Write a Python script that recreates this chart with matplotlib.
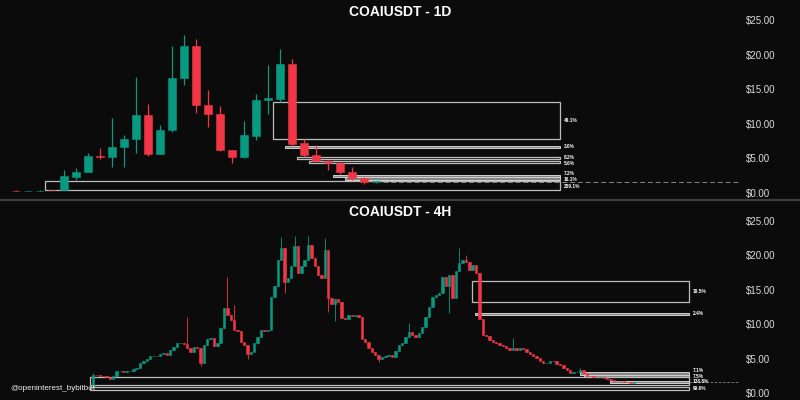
import matplotlib
matplotlib.use('Agg')
import matplotlib.pyplot as plt
from matplotlib.patches import Rectangle
from matplotlib.lines import Line2D
from matplotlib.ticker import FuncFormatter
import numpy as np

plt.rcParams['font.family'] = ['Liberation Sans', 'DejaVu Sans']

BG = '#0b0b0b'
UP = '#089981'
DN = '#f23645'

# ---------------- Daily (1D) candles ----------------
d_open = [0.36, 0.32, 0.33, 0.45, 0.43, 2.36, 3.0, 5.4, 5.25, 6.6, 7.76, 11.27, 5.68, 9.15, 16.66, 21.3,
          12.67, 11.37, 6.17, 5.16, 8.3, 13.5, 13.6, 18.6, 7.27, 5.53, 4.67, 4.29, 3.08, 2.12, 1.59]
d_high = [0.38, 0.36, 0.37, 0.47, 3.3, 3.66, 5.82, 6.5, 10.9, 8.4, 16.7, 12.8, 9.87, 21.3, 22.8, 22.3,
          14.9, 12.5, 6.2, 10.4, 14.3, 18.5, 20.85, 19.3, 7.76, 6.94, 4.7, 4.3, 3.7, 2.36, 1.75]
d_low = [0.3, 0.3, 0.31, 0.4, 0.4, 1.88, 3.0, 4.9, 3.8, 3.8, 5.8, 5.35, 5.6, 8.86, 15.6, 11.5,
         9.58, 6.07, 4.29, 5.1, 7.66, 11.46, 13.2, 6.8, 5.16, 4.6, 3.3, 2.7, 1.92, 1.34, 1.5]
d_close = [0.32, 0.35, 0.36, 0.42, 2.45, 3.03, 5.39, 5.2, 6.65, 7.76, 11.27, 5.68, 9.15, 16.66, 21.3, 12.67,
           11.37, 6.17, 5.16, 8.38, 13.4, 13.7, 18.6, 7.08, 5.53, 4.67, 4.29, 3.08, 2.12, 1.59, 1.69]
d_last = 1.55

# zones: (start candle, top, bottom, label, filled)
d_zone_start = [21.45, 22.45, 23.45, 24.45, 26.45, 27.45, 2.45]
d_zone_top = [13.15, 6.84, 5.16, 4.58, 2.6, 2.27, 1.73]
d_zone_bot = [7.85, 6.55, 4.87, 4.29, 2.27, 1.88, 0.43]
d_zone_lbl = ['49.1%', '3.0%', '8.2%', '5.6%', '7.2%', '16.1%', '259.1%']
d_zone_fill = [False, True, False, False, True, True, False]

# ---------------- 4H candles ----------------
h_first_open = 1.0
h_close = [2.6, 2.55, 2.5, 2.45, 2.35, 2.05, 2.5, 3.2, 3.25, 3.1,
           3.15, 3.2, 3.5, 3.7, 4.3, 4.7, 5.0, 5.4, 5.45, 5.35,
           5.6, 5.8, 5.5, 6.25, 6.7, 7.2, 7.3, 7.1, 6.6, 6.0,
           6.7, 6.5, 4.4, 7.0, 7.9, 8.0, 6.9, 7.3, 9.4, 12.3,
           11.3, 10.6, 9.15, 9.0, 7.45, 7.0, 5.7, 6.0, 7.2, 8.2,
           9.15, 9.0, 9.1, 14.0, 15.5, 19.3, 21.1, 16.2, 16.7, 18.4,
           21.3, 17.4, 18.4, 19.3, 21.5, 19.6, 18.4, 17.2, 16.7, 20.8,
           13.8, 13.0, 13.7, 13.2, 10.9, 10.8, 11.3, 11.2, 11.4, 11.0,
           7.9, 7.4, 6.6, 6.0, 5.5, 4.9, 5.3, 5.4, 5.5, 5.3,
           6.1, 7.0, 7.3, 8.2, 8.9, 8.5, 8.2, 8.7, 9.6, 11.1,
           12.5, 14.0, 14.2, 14.5, 16.9, 15.5, 17.2, 13.8, 17.7, 18.9,
           19.3, 19.0, 17.9, 18.6, 17.5, 10.8, 8.4, 8.3, 7.7, 7.4,
           7.2, 7.0, 6.8, 6.5, 6.3, 6.6, 6.2, 6.6, 6.4, 6.0,
           5.7, 5.4, 5.1, 4.7, 4.4, 4.4, 4.7, 4.6, 4.2, 4.0,
           3.6, 3.3, 2.9, 3.1, 3.1, 3.4, 2.9, 2.5, 2.4, 2.35,
           2.3, 2.3, 2.25, 2.0, 1.9, 1.75, 1.7, 1.68, 1.65, 1.6,
           1.5, 1.55, 1.6]
h_high_wicks = {0: 2.9, 28: 11.1, 40: 16.9, 42: 12.8, 56: 22.7, 60: 22.8, 64: 22.8, 69: 22.5,
                94: 10.2, 109: 21.1, 111: 20.1, 125: 8.0, 145: 3.7}
h_low_wicks = {32: 3.9, 46: 5.0, 57: 14.6, 70: 11.8, 72: 10.5, 85: 4.55, 106: 11.6}
h_last = 1.6

h_zone_start = [112.7, 113.8, 145.0, 146.0, -0.9, 153.9, -0.9]
h_zone_top = [16.3, 11.6, 3.05, 2.6, 2.3, 1.75, 0.92]
h_zone_bot = [13.2, 11.4, 2.6, 2.3, 1.15, 1.5, 0.44]
h_zone_lbl = ['19.5%', '2.4%', '7.1%', '7.5%', '', '138.8%', '99.6%']
h_zone_fill = [False, True, True, True, False, True, False]

yticks = [0, 5, 10, 15, 20, 25]

# label heights (layout: nudged so the small labels do not collide)
d_lbl_y = [10.5, 6.75, 5.1, 4.25, 2.75, 1.9, 1.0]
h_lbl_y = [14.75, 11.5, 3.3, 2.45, None, 1.62, 0.68]


def draw_candles(ax, o, h, l, c, width, wlw):
    o = np.asarray(o, float); h = np.asarray(h, float)
    l = np.asarray(l, float); c = np.asarray(c, float)
    x = np.arange(len(c))
    cols = np.where(c >= o, UP, DN)
    ax.vlines(x, l, h, colors=cols, linewidth=wlw, zorder=3)
    ax.bar(x, np.abs(c - o), bottom=np.minimum(o, c), width=width, color=cols,
           edgecolor=cols, linewidth=0.4, zorder=4)


def draw_zones(ax, starts, tops, bots, lbls, fills, lys, right, lbl_x):
    for s, t, b, lb, f, ly in zip(starts, tops, bots, lbls, fills, lys):
        if f:
            r = Rectangle((s, b), right - s, t - b, facecolor='#858585', edgecolor='#d0d0d0',
                          linewidth=0.7, zorder=2)
        else:
            r = Rectangle((s, b), right - s, t - b, facecolor='none', edgecolor='#bdbdbd',
                          linewidth=0.9, zorder=2)
        ax.add_patch(r)
        if lb:
            ax.text(lbl_x, ly, lb, fontsize=3.4, color='white', fontweight='bold',
                    va='center', ha='left', zorder=5)


def style_axis(ax, ylim, xlim):
    ax.set_facecolor(BG)
    ax.set_xlim(*xlim)
    ax.set_ylim(*ylim)
    for sp in ax.spines.values():
        sp.set_visible(False)
    ax.set_xticks([])
    ax.yaxis.tick_right()
    ax.set_yticks(yticks)
    ax.yaxis.set_major_formatter(FuncFormatter(lambda v, p: f'${v:.2f}'))
    ax.tick_params(axis='y', length=0, pad=4.5, labelsize=7, colors='#d9d9d9')


fig = plt.figure(figsize=(8, 4), dpi=100, facecolor=BG)

# top panel (1D)
ax1 = fig.add_axes([0, 203 / 400, 740 / 800, 197 / 400])
d_xlim = (-16 / 12, (740 - 16) / 12)
style_axis(ax1, (-0.578, 27.89), d_xlim)
draw_candles(ax1, d_open, d_high, d_low, d_close, 0.7, 0.9)
draw_zones(ax1, d_zone_start, d_zone_top, d_zone_bot, d_zone_lbl, d_zone_fill, d_lbl_y,
           (560 - 16) / 12, (564 - 16) / 12)
ax1.plot([len(d_close) - 0.4, d_xlim[1]], [d_last, d_last], ls=(0, (5, 3)), color='#8a8a8a',
         lw=0.7, zorder=2)

# bottom panel (4H)
h_open = [h_first_open] + h_close[:-1]
h_high = [max(o, c) for o, c in zip(h_open, h_close)]
h_low = [min(o, c) for o, c in zip(h_open, h_close)]
for k, v in h_high_wicks.items():
    h_high[k] = v
for k, v in h_low_wicks.items():
    h_low[k] = v
ax2 = fig.add_axes([0, 0, 740 / 800, 199 / 400])
h_xlim = (-93 / 3.36, (740 - 93) / 3.36)
style_axis(ax2, (-1.017, 27.91), h_xlim)
draw_candles(ax2, h_open, h_high, h_low, h_close, 0.72, 0.6)
draw_zones(ax2, h_zone_start, h_zone_top, h_zone_bot, h_zone_lbl, h_zone_fill, h_lbl_y,
           (689 - 93) / 3.36, (693 - 93) / 3.36)
ax2.plot([len(h_close) + 12, h_xlim[1]], [h_last, h_last], ls=(0, (3, 2)), color='#8a8a8a',
         lw=0.6, zorder=2)

# separator
fig.add_artist(Line2D([0, 1], [1 - 199.5 / 400, 1 - 199.5 / 400], color='#3c3c3c', lw=1.6))

fig.text(0.5, 1 - 11.5 / 400, 'COAIUSDT - 1D', ha='center', va='center', fontsize=10,
         fontweight='bold', color='white')
fig.text(0.5, 1 - 211.5 / 400, 'COAIUSDT - 4H', ha='center', va='center', fontsize=10,
         fontweight='bold', color='white')
fig.text(10 / 800, 1 - 389 / 400, '@openinterest_bybitbot', ha='left', va='center', fontsize=5.8,
         color='#eeeeee')

fig.savefig('out.png', dpi=100, facecolor=BG)
